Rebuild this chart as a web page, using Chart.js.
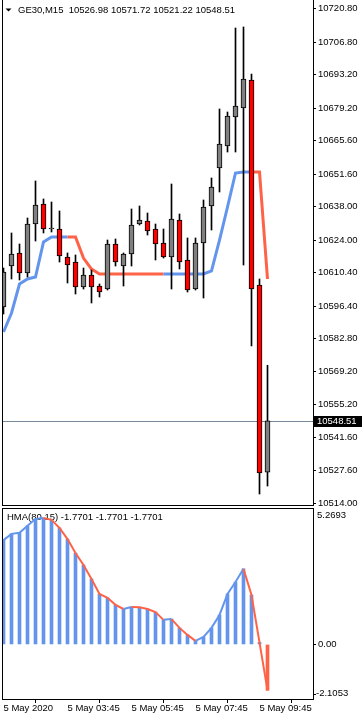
<!DOCTYPE html>
<html>
<head>
<meta charset="utf-8">
<script src="https://cdn.jsdelivr.net/npm/chart.js@4.4.1/dist/chart.umd.min.js"></script>
<style>
  html, body { margin: 0; padding: 0; background: #fff; }
  body { width: 364px; height: 721px; position: relative; overflow: hidden; }
  canvas { position: absolute; left: 0; }
  #main { top: 0; width: 364px; height: 507px; }
  #osc { top: 507px; width: 364px; height: 214px; }
</style>
</head>
<body>
<canvas id="main" width="364" height="507"></canvas>
<canvas id="osc" width="364" height="214"></canvas>
<script>
// GE30 M15, 34 bars (5 May 2020 01:45 .. 10:00)
const tickBars = [0, 8, 16, 24, 32];
const tickLabels = ['5 May 2020', '5 May 03:45', '5 May 05:45', '5 May 07:45', '5 May 09:45'];

const open = [10596.09, 10613.24, 10618.68, 10610.31, 10630.80, 10639.17, 10628.71, 10628.71, 10617.00, 10614.91,
              10604.45, 10609.48, 10604.87, 10603.62, 10622.44, 10613.24, 10618.26, 10630.80, 10632.06, 10628.71,
              10622.86, 10617.00, 10632.48, 10615.75, 10603.62, 10622.86, 10638.33, 10654.22, 10663.42, 10675.55,
              10679.32, 10691.02, 10605.29, 10526.98];
const high = [10612.40, 10627.04, 10622.44, 10633.31, 10648.79, 10641.26, 10640.00, 10636.24, 10618.68, 10617.84,
              10612.40, 10611.57, 10605.71, 10624.11, 10624.53, 10618.68, 10637.08, 10638.33, 10635.40, 10630.80,
              10628.71, 10647.53, 10634.98, 10624.95, 10624.95, 10640.84, 10650.04, 10678.90, 10677.64, 10712.77,
              10713.19, 10693.53, 10607.80, 10571.72];
const low = [10593.16, 10607.80, 10607.38, 10608.64, 10623.69, 10627.04, 10627.46, 10614.91, 10606.13, 10601.53,
             10603.62, 10597.77, 10600.28, 10603.20, 10613.24, 10604.87, 10613.24, 10630.39, 10626.20, 10615.75,
             10616.58, 10603.62, 10612.00, 10602.37, 10603.20, 10599.86, 10628.29, 10644.19, 10660.91, 10660.91,
             10613.66, 10579.78, 10517.89, 10521.22];
const close = [10610.73, 10618.26, 10610.31, 10630.80, 10638.75, 10628.71, 10629.13, 10617.42, 10613.66, 10604.45,
               10609.48, 10604.45, 10602.37, 10622.44, 10614.91, 10618.26, 10630.39, 10632.48, 10627.87, 10622.44,
               10617.00, 10632.89, 10614.91, 10603.20, 10622.86, 10637.91, 10646.28, 10664.26, 10675.97, 10680.15,
               10691.44, 10603.62, 10526.67, 10548.51];

// coloured HMA on the price chart, 1 = rising (blue), -1 = falling (red)
const hma = [10585.64, 10593.58, 10605.71, 10607.80, 10608.64, 10623.28, 10625.37, 10625.37, 10625.37, 10625.37,
             10616.58, 10611.98, 10609.89, 10609.89, 10609.89, 10609.89, 10609.89, 10609.89, 10609.89, 10609.89,
             10609.89, 10609.89, 10609.89, 10609.89, 10609.89, 10609.89, 10611.15, 10624.11, 10637.91, 10652.13,
             10652.55, 10652.55, 10652.55, 10607.80];
const hmaTrend = [1, 1, 1, 1, 1, 1, 1, 1, 1, -1, -1, -1, -1, -1, -1, -1, -1, -1, -1, -1, -1,
                  1, 1, 1, 1, 1, 1, 1, 1, 1, 1, 1, -1, -1];

// HMA(80,15) oscillator
const osc = [4.03, 4.27, 4.31, 4.58, 4.85, 4.88, 4.81, 4.50, 4.07, 3.53,
             3.07, 2.53, 1.95, 1.80, 1.53, 1.37, 1.45, 1.44, 1.37, 1.25,
             0.95, 0.98, 0.64, 0.37, 0.14, 0.29, 0.64, 1.14, 1.95, 2.41,
             2.92, 1.91, 0.08, -1.7701];
const oscTrend = [1, 1, 1, 1, 1, 1, -1, -1, -1, -1, -1, -1, -1, -1, -1, -1, 1, -1, -1, -1, -1,
                  1, -1, -1, -1, 1, 1, 1, 1, 1, 1, -1, -1, -1];

const priceTicks = [10720.80, 10706.80, 10693.20, 10679.20, 10665.60, 10651.60, 10638.00, 10624.00,
                    10610.40, 10596.40, 10582.80, 10569.20, 10555.20, 10541.60, 10527.60, 10514.00];

const BLUE = '#6495ED';
const TOMATO = '#FF6347';
const FONT = '9.5px "Liberation Sans", Arial, sans-serif';
const last = close.length - 1;

Chart.defaults.font.family = '"Liberation Sans", Arial, sans-serif';
Chart.defaults.font.size = 9.5;
Chart.defaults.color = '#000';

const xRange = { min: -0.1875, max: 38.6875 };
const pts = arr => arr.map((v, i) => ({ x: i, y: v }));

function noPad(scale) {
  scale.paddingTop = 0;
  scale.paddingBottom = 0;
  scale.paddingLeft = 0;
  scale.paddingRight = 0;
}

function drawFrame(ctx, a, top, bottom) {
  ctx.save();
  ctx.strokeStyle = '#000';
  ctx.lineWidth = 1;
  ctx.beginPath();
  ctx.moveTo(a.left + 0.5, a.top);
  ctx.lineTo(a.left + 0.5, a.bottom);
  ctx.moveTo(a.right + 0.5, a.top);
  ctx.lineTo(a.right + 0.5, a.bottom);
  if (top) { ctx.moveTo(a.left, a.top + 0.5); ctx.lineTo(a.right + 1, a.top + 0.5); }
  if (bottom) { ctx.moveTo(a.left, bottom); ctx.lineTo(a.right + 1, bottom); }
  ctx.stroke();
  ctx.restore();
}

const mainPlugin = {
  id: 'mainDecor',
  beforeDatasetsDraw(chart) {
    const { ctx, chartArea: a, scales } = chart;
    const y = Math.round(scales.y.getPixelForValue(close[last])) + 0.5;
    ctx.save();
    ctx.strokeStyle = '#778899';
    ctx.lineWidth = 1;
    ctx.beginPath();
    ctx.moveTo(a.left, y);
    ctx.lineTo(a.right, y);
    ctx.stroke();
    ctx.restore();
  },
  afterDraw(chart) {
    const { ctx, chartArea: a, scales } = chart;
    drawFrame(ctx, a, false, a.bottom - 0.5);
    ctx.save();
    // header
    ctx.fillStyle = '#000';
    ctx.beginPath();
    ctx.moveTo(5.5, 8.5);
    ctx.lineTo(11.5, 8.5);
    ctx.lineTo(8.5, 11.5);
    ctx.closePath();
    ctx.fill();
    ctx.font = FONT;
    ctx.textBaseline = 'middle';
    ctx.fillText('GE30,M15  ' + [open[last], high[last], low[last], close[last]].map(v => v.toFixed(2)).join(' '), 18, 10.5);
    // current price tag
    const y = scales.y.getPixelForValue(close[last]);
    ctx.fillRect(314, Math.round(y) - 5, 48, 11);
    ctx.fillStyle = '#fff';
    ctx.fillText(close[last].toFixed(2), 317, Math.round(y) + 0.5);
    ctx.restore();
  }
};

const oscPlugin = {
  id: 'oscDecor',
  beforeDatasetsDraw(chart) {
    const { ctx } = chart;
    const v = osc[last].toFixed(4);
    ctx.save();
    ctx.font = FONT;
    ctx.fillStyle = '#000';
    ctx.textBaseline = 'middle';
    ctx.fillText('HMA(80,15) ' + v + ' ' + v + ' ' + v, 7, 10.7);
    ctx.restore();
  },
  afterDraw(chart) {
    const { ctx, chartArea: a, scales } = chart;
    drawFrame(ctx, a, true, a.bottom + 0.5);
    const ys = scales.y;
    ctx.save();
    ctx.font = FONT;
    ctx.fillStyle = '#000';
    ctx.textBaseline = 'middle';
    ctx.fillText(ys.max.toFixed(4), 317, ys.getPixelForValue(ys.max) + 7);
    ctx.fillText(ys.min.toFixed(4), 316, ys.getPixelForValue(ys.min) - 5.5);
    ctx.beginPath();
    ctx.moveTo(a.right, Math.round(ys.getPixelForValue(ys.min) - 5.5) + 0.5);
    ctx.lineTo(a.right + 3, Math.round(ys.getPixelForValue(ys.min) - 5.5) + 0.5);
    ctx.stroke();
    ctx.restore();
  }
};

new Chart(document.getElementById('main'), {
  type: 'bar',
  data: {
    datasets: [
      {
        type: 'line',
        data: pts(hma),
        borderWidth: 3,
        borderColor: BLUE,
        segment: { borderColor: c => hmaTrend[c.p1DataIndex] > 0 ? BLUE : TOMATO },
        pointRadius: 0,
        tension: 0,
        order: 3
      },
      {
        data: low.map((v, i) => ({ x: i, y: [v, high[i]] })),
        backgroundColor: '#000',
        maxBarThickness: 1,
        grouped: false,
        order: 2
      },
      {
        data: open.map((v, i) => ({ x: i, y: [v, close[i]] })),
        backgroundColor: open.map((v, i) => close[i] >= v ? '#808080' : '#FF0000'),
        borderColor: '#000',
        borderWidth: 1,
        borderSkipped: false,
        maxBarThickness: 5,
        grouped: false,
        order: 1
      }
    ]
  },
  options: {
    responsive: false,
    animation: false,
    events: [],
    barPercentage: 1,
    categoryPercentage: 1,
    layout: { padding: { left: 2, right: 0, top: 0, bottom: 1 } },
    plugins: { legend: { display: false }, tooltip: { enabled: false } },
    scales: {
      x: { type: 'linear', offset: false, display: false, min: xRange.min, max: xRange.max },
      y: {
        type: 'linear',
        position: 'right',
        min: 10512.87,
        max: 10724.48,
        afterBuildTicks: s => { s.ticks = priceTicks.map(v => ({ value: v })); },
        afterFit: s => { s.width = 51; noPad(s); },
        ticks: { padding: 2, callback: v => v.toFixed(2), color: '#000' },
        grid: { drawOnChartArea: false, tickLength: 3, color: '#000' },
        border: { display: false }
      }
    }
  },
  plugins: [mainPlugin]
});

new Chart(document.getElementById('osc'), {
  type: 'bar',
  data: {
    datasets: [
      {
        type: 'line',
        data: pts(osc),
        borderWidth: 2,
        borderColor: BLUE,
        segment: { borderColor: c => oscTrend[c.p1DataIndex] > 0 ? BLUE : TOMATO },
        pointRadius: 0,
        tension: 0,
        order: 1
      },
      {
        data: pts(osc),
        backgroundColor: osc.map(v => v >= 0 ? BLUE : TOMATO),
        maxBarThickness: 3,
        grouped: false,
        order: 2
      }
    ]
  },
  options: {
    responsive: false,
    animation: false,
    events: [],
    barPercentage: 1,
    categoryPercentage: 1,
    layout: { padding: { left: 2, right: 0, top: 1, bottom: 0 } },
    plugins: { legend: { display: false }, tooltip: { enabled: false } },
    scales: {
      x: {
        type: 'linear',
        offset: false,
        min: xRange.min,
        max: xRange.max,
        afterBuildTicks: s => { s.ticks = tickBars.map(v => ({ value: v })); },
        afterFit: s => { s.height = 22; noPad(s); },
        ticks: {
          autoSkip: false,
          maxRotation: 0,
          minRotation: 0,
          align: 'start',
          padding: 0,
          color: '#000',
          callback: (v, i) => tickLabels[i]
        },
        grid: { drawOnChartArea: false, tickLength: 4, color: '#000' },
        border: { display: false }
      },
      y: {
        type: 'linear',
        position: 'right',
        min: -2.1053,
        max: 5.2693,
        afterBuildTicks: s => { s.ticks = [{ value: 0 }]; },
        afterFit: s => { s.width = 51; noPad(s); },
        ticks: { padding: 2, callback: v => v.toFixed(2), color: '#000' },
        grid: { drawOnChartArea: false, tickLength: 3, color: '#000' },
        border: { display: false }
      }
    }
  },
  plugins: [oscPlugin]
});
</script>
</body>
</html>
